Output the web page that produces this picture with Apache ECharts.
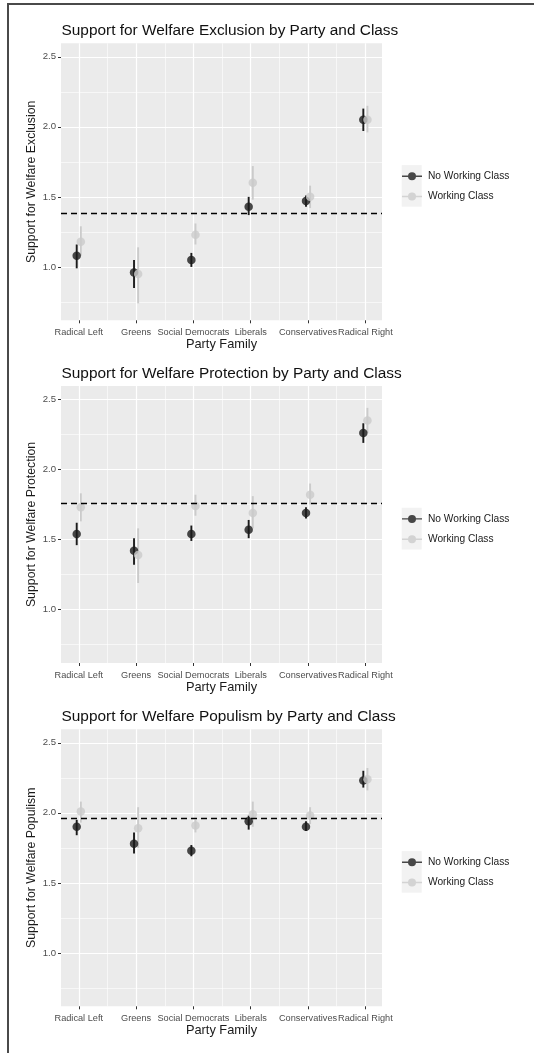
<!DOCTYPE html>
<html>
<head>
<meta charset="utf-8">
<script src="https://cdn.jsdelivr.net/npm/echarts@6/dist/echarts.min.js"></script>
<style>
html,body{margin:0;padding:0;background:#fff;overflow:hidden;}
#wrap{position:relative;width:534px;height:1053px;}
#chart{position:absolute;left:0;top:0;width:534px;height:1053px;}
#frame{position:absolute;left:6.5px;top:2.7px;width:530px;height:1060px;border-left:2px solid #4a4a4a;border-top:2px solid #4a4a4a;pointer-events:none;}
</style>
</head>
<body>
<div id="wrap"><div id="chart"></div><div id="frame"></div></div>
<script>
// ---- data ----
const categories = ['Radical Left','Greens','Social Democrats','Liberals','Conservatives','Radical Right'];
const panelTitles = ['Support for Welfare Exclusion by Party and Class','Support for Welfare Protection by Party and Class','Support for Welfare Populism by Party and Class'];
const yTitles = ['Support for Welfare Exclusion','Support for Welfare Protection','Support for Welfare Populism'];
const seriesNames = ['No Working Class','Working Class'];
const yTicks = [1.0, 1.5, 2.0, 2.5];
const yMinorTicks = [0.75, 1.25, 1.75, 2.25];

// Exclusion
const exclNoWCMean = [1.08, 0.96, 1.05, 1.43, 1.47, 2.05];
const exclNoWCLo   = [0.99, 0.85, 1.00, 1.37, 1.43, 1.97];
const exclNoWCHi   = [1.16, 1.05, 1.10, 1.50, 1.51, 2.13];
const exclWCMean   = [1.18, 0.95, 1.23, 1.60, 1.50, 2.05];
const exclWCLo     = [1.08, 0.74, 1.16, 1.48, 1.42, 1.96];
const exclWCHi     = [1.29, 1.14, 1.31, 1.72, 1.58, 2.15];
const exclRef = 1.376;

// Protection
const protNoWCMean = [1.54, 1.42, 1.54, 1.57, 1.69, 2.26];
const protNoWCLo   = [1.46, 1.32, 1.49, 1.51, 1.65, 2.19];
const protNoWCHi   = [1.62, 1.51, 1.60, 1.64, 1.73, 2.33];
const protWCMean   = [1.73, 1.39, 1.74, 1.69, 1.82, 2.35];
const protWCLo     = [1.63, 1.19, 1.67, 1.58, 1.75, 2.26];
const protWCHi     = [1.83, 1.58, 1.82, 1.81, 1.90, 2.44];
const protRef = 1.76;

// Populism
const popNoWCMean = [1.90, 1.78, 1.73, 1.94, 1.90, 2.23];
const popNoWCLo   = [1.84, 1.71, 1.69, 1.88, 1.87, 2.18];
const popNoWCHi   = [1.95, 1.86, 1.77, 1.98, 1.94, 2.30];
const popWCMean   = [2.01, 1.89, 1.91, 1.99, 1.98, 2.24];
const popWCLo     = [1.93, 1.75, 1.86, 1.90, 1.92, 2.16];
const popWCHi     = [2.08, 2.04, 1.95, 2.08, 2.04, 2.32];
const popRef = 1.957;

// ---- layout / style ----
const FONT = '"Liberation Sans", Arial, Helvetica, sans-serif';
const panelTops = [43.3, 386, 729.3];
const panelH = 277;
const gridLeft = 61, gridW = 321;
const xMin = 0.69, xMax = 6.29, yMin = 0.619, yMax = 2.596;
const dodge = 0.036;
const colNoWC = '#1c1c1c', colWC = '#cbcbcb';

const panels = [
  {nm: exclNoWCMean, nl: exclNoWCLo, nh: exclNoWCHi, wm: exclWCMean, wl: exclWCLo, wh: exclWCHi, ref: exclRef},
  {nm: protNoWCMean, nl: protNoWCLo, nh: protNoWCHi, wm: protWCMean, wl: protWCLo, wh: protWCHi, ref: protRef},
  {nm: popNoWCMean, nl: popNoWCLo, nh: popNoWCHi, wm: popWCMean, wl: popWCLo, wh: popWCHi, ref: popRef}
];

const majorX = categories.map((c, i) => i + 1);
const minorX = categories.slice(1).map((c, i) => i + 1.5);

const grids = [], xAxes = [], yAxes = [], series = [], titles = [], legends = [], graphics = [];

function errRender(color) {
  return function (params, api) {
    const x = api.value(0);
    const p1 = api.coord([x, api.value(1)]);
    const p2 = api.coord([x, api.value(2)]);
    return {type: 'line', shape: {x1: p1[0], y1: p1[1], x2: p2[0], y2: p2[1]},
            style: {stroke: color, lineWidth: 1.9}};
  };
}

panels.forEach((p, k) => {
  const top = panelTops[k];
  grids.push({left: gridLeft, top: top, width: gridW, height: panelH, show: true,
              backgroundColor: '#ebebeb', borderWidth: 0, containLabel: false});
  xAxes.push({type: 'value', gridIndex: k, min: xMin, max: xMax, position: 'bottom',
    name: 'Party Family', nameLocation: 'middle', nameGap: 18, nameMoveOverlap: false,
    nameTextStyle: {fontFamily: FONT, fontSize: 12.8, color: '#1a1a1a'},
    axisLine: {show: false},
    axisTick: {show: true, customValues: majorX, length: 3, lineStyle: {color: '#333', width: 1}},
    axisLabel: {show: true, customValues: majorX, interval: 0, hideOverlap: false, margin: 7.5,
      fontFamily: FONT, fontSize: 9.2, color: '#4d4d4d',
      formatter: v => categories[Math.round(v) - 1]},
    splitLine: {show: true, lineStyle: {color: '#ffffff', width: 1.2}}
  });
  xAxes.push({type: 'value', gridIndex: k, min: xMin, max: xMax, position: 'bottom',
    axisLine: {show: false},
    axisTick: {show: false, customValues: minorX},
    axisLabel: {show: false, customValues: minorX},
    splitLine: {show: true, lineStyle: {color: '#ffffff', width: 0.6}}
  });
  yAxes.push({type: 'value', gridIndex: k, min: yMin, max: yMax, position: 'left',
    name: yTitles[k], nameLocation: 'middle', nameGap: 23, nameMoveOverlap: false,
    nameTextStyle: {fontFamily: FONT, fontSize: 12.3, color: '#1a1a1a'},
    axisLine: {show: false},
    axisTick: {show: true, customValues: yTicks, length: 3, lineStyle: {color: '#333', width: 1}},
    axisLabel: {show: true, customValues: yTicks, margin: 5, fontFamily: FONT, fontSize: 9.6, color: '#4d4d4d',
      formatter: v => v.toFixed(1)},
    splitLine: {show: true, lineStyle: {color: '#ffffff', width: 1.2}}
  });
  yAxes.push({type: 'value', gridIndex: k, min: yMin, max: yMax, position: 'left',
    axisLine: {show: false},
    axisTick: {show: false, customValues: yMinorTicks},
    axisLabel: {show: false, customValues: yMinorTicks},
    splitLine: {show: true, lineStyle: {color: '#ffffff', width: 0.6}}
  });

  const xi = 2 * k, yi = 2 * k;
  const nwErr = categories.map((c, i) => [i + 1 - dodge, p.nl[i], p.nh[i]]);
  const nwPts = categories.map((c, i) => [i + 1 - dodge, p.nm[i]]);
  const wcErr = categories.map((c, i) => [i + 1 + dodge, p.wl[i], p.wh[i]]);
  const wcPts = categories.map((c, i) => [i + 1 + dodge, p.wm[i]]);

  series.push({type: 'custom', name: 'err-nowc-' + k, xAxisIndex: xi, yAxisIndex: yi,
    renderItem: errRender(colNoWC), data: nwErr, silent: true, z: 3});
  series.push({type: 'scatter', name: seriesNames[0], xAxisIndex: xi, yAxisIndex: yi,
    data: nwPts, symbol: 'circle', symbolSize: 8.5, itemStyle: {color: colNoWC}, z: 3, silent: true,
    markLine: {silent: true, symbol: 'none', label: {show: false},
      lineStyle: {color: '#000', width: 1.3, type: [6, 4]},
      data: [{yAxis: p.ref}]}
  });
  series.push({type: 'custom', name: 'err-wc-' + k, xAxisIndex: xi, yAxisIndex: yi,
    renderItem: errRender(colWC), data: wcErr, silent: true, z: 3});
  series.push({type: 'scatter', name: seriesNames[1], xAxisIndex: xi, yAxisIndex: yi,
    data: wcPts, symbol: 'circle', symbolSize: 8.5, itemStyle: {color: colWC}, z: 3, silent: true});

  titles.push({text: panelTitles[k], left: 61.5, top: top - 13.8 - 5.8, padding: 0,
    textStyle: {fontFamily: FONT, fontSize: 15.4, fontWeight: 'normal', color: '#111'}});

  const legTop = top + 132.2;
  graphics.push({type: 'rect', left: 401.7, top: legTop - 10.4, z: 0,
    shape: {width: 20, height: 41.6}, style: {fill: '#f2f2f2'}});
  legends.push({data: seriesNames, orient: 'vertical', left: 402, top: legTop - 4.3, padding: 0,
    itemWidth: 20, itemHeight: 8, itemGap: 10.3, selectedMode: false,
    icon: 'path://M0,3.3 L20,3.3 L20,4.7 L0,4.7 Z M14,4 A4,4 0 1 1 6,4 A4,4 0 1 1 14,4 Z',
    textStyle: {fontFamily: FONT, fontSize: 10.2, color: '#1a1a1a', padding: [0, 0, 0, 1]}});
});

const chart = echarts.init(document.getElementById('chart'), null, {renderer: 'canvas'});
chart.setOption({
  animation: false,
  backgroundColor: '#ffffff',
  title: titles,
  legend: legends,
  grid: grids,
  xAxis: xAxes,
  yAxis: yAxes,
  series: series,
  graphic: graphics
});
</script>
</body>
</html>
